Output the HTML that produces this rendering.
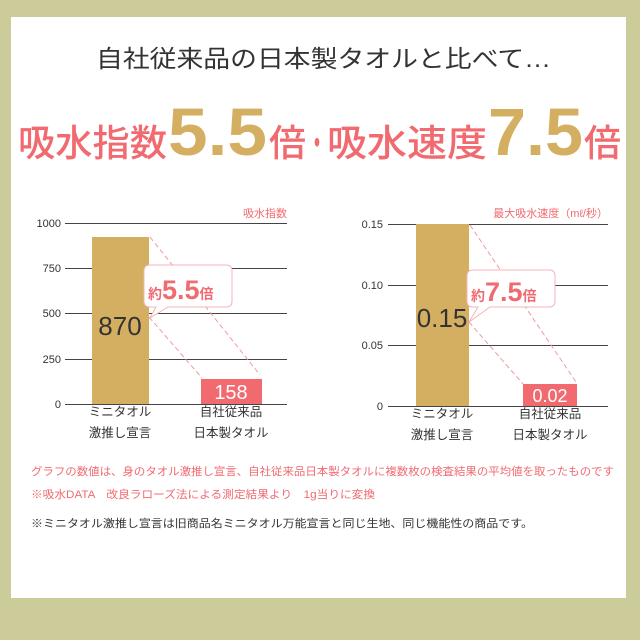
<!DOCTYPE html>
<html><head><meta charset="utf-8"><style>
html,body{margin:0;padding:0;background:#cccb9a;}
svg{display:block;font-family:"Liberation Sans","Noto Sans CJK JP",sans-serif;}
</style></head><body>
<svg width="640" height="640" viewBox="0 0 640 640" xmlns="http://www.w3.org/2000/svg">
<rect x="0" y="0" width="640" height="640" fill="#cccb9a"/>
<rect x="11" y="17" width="615" height="581" fill="#ffffff"/>

<text x="96" y="67" font-size="24" fill="#333" textLength="455" lengthAdjust="spacingAndGlyphs">自社従来品の日本製タオルと比べて…</text>

<text x="18" y="156" font-size="37" fill="#f06a70" font-weight="500" textLength="149" lengthAdjust="spacingAndGlyphs">吸水指数</text>
<text x="168" y="155" font-size="67" fill="#d4af62" font-weight="bold" textLength="99" lengthAdjust="spacingAndGlyphs">5.5</text>
<text x="269" y="156" font-size="37" fill="#f06a70" font-weight="500" textLength="37" lengthAdjust="spacingAndGlyphs">倍</text>
<text x="307" y="156" font-size="37" fill="#f06a70" font-weight="500" textLength="20" lengthAdjust="spacingAndGlyphs">・</text>
<text x="327" y="156" font-size="37" fill="#f06a70" font-weight="500" textLength="160" lengthAdjust="spacingAndGlyphs">吸水速度</text>
<text x="488" y="155" font-size="67" fill="#d4af62" font-weight="bold" textLength="95" lengthAdjust="spacingAndGlyphs">7.5</text>
<text x="584" y="156" font-size="37" fill="#f06a70" font-weight="500" textLength="37" lengthAdjust="spacingAndGlyphs">倍</text>

<!-- Chart 1 -->
<text x="287" y="217" font-size="11" fill="#f06a70" text-anchor="end">吸水指数</text>
<g stroke="#444" stroke-width="1">
<line x1="65" y1="223.5" x2="287" y2="223.5"/>
<line x1="65" y1="268.5" x2="287" y2="268.5"/>
<line x1="65" y1="313.5" x2="287" y2="313.5"/>
<line x1="65" y1="359.5" x2="287" y2="359.5"/>
<line x1="65" y1="404.5" x2="287" y2="404.5"/>
</g>
<g font-size="11" fill="#333" text-anchor="end">
<text x="61" y="227">1000</text><text x="61" y="272">750</text><text x="61" y="317">500</text><text x="61" y="363">250</text><text x="61" y="408">0</text>
</g>
<rect x="92" y="237" width="57" height="167" fill="#d4af62"/>
<rect x="201" y="379" width="61" height="25" fill="#f06a70"/>
<text x="120" y="335" font-size="26" fill="#333" text-anchor="middle">870</text>
<text x="231" y="399" font-size="20" fill="#fff" text-anchor="middle">158</text>
<g stroke="#f09aa0" stroke-width="1" stroke-dasharray="5,3" fill="none">
<line x1="150" y1="237" x2="260" y2="375"/>
<line x1="149" y1="317" x2="202" y2="378"/>
</g>
<path d="M150 265 H226 Q232 265 232 271 V301 Q232 307 226 307 H168 L150 318 L156 307 H150 Q144 307 144 301 V271 Q144 265 150 265 Z" fill="#fff" stroke="#f4b4b8" stroke-width="1"/>
<text x="148" y="299" font-size="14" fill="#f06a70" font-weight="bold">約<tspan font-size="27">5.5</tspan>倍</text>
<g font-size="12.5" fill="#333" text-anchor="middle">
<text x="120" y="416">ミニタオル</text><text x="120" y="437">激推し宣言</text>
<text x="231" y="416">自社従来品</text><text x="231" y="437">日本製タオル</text>
</g>

<!-- Chart 2 -->
<text x="608" y="217" font-size="11" fill="#f06a70" text-anchor="end">最大吸水速度（mℓ/秒）</text>
<g stroke="#444" stroke-width="1">
<line x1="388" y1="224.5" x2="608" y2="224.5"/>
<line x1="388" y1="285.5" x2="608" y2="285.5"/>
<line x1="388" y1="345.5" x2="608" y2="345.5"/>
<line x1="388" y1="406.5" x2="608" y2="406.5"/>
</g>
<g font-size="11" fill="#333" text-anchor="end">
<text x="383" y="228">0.15</text><text x="383" y="289">0.10</text><text x="383" y="349">0.05</text><text x="383" y="410">0</text>
</g>
<rect x="416" y="224" width="53" height="182" fill="#d4af62"/>
<rect x="523" y="384" width="54" height="22" fill="#f06a70"/>
<text x="442" y="327" font-size="26" fill="#333" text-anchor="middle">0.15</text>
<text x="550" y="402" font-size="18" fill="#fff" text-anchor="middle">0.02</text>
<g stroke="#f09aa0" stroke-width="1" stroke-dasharray="5,3" fill="none">
<line x1="470" y1="225" x2="576" y2="382"/>
<line x1="469" y1="322" x2="523" y2="384"/>
</g>
<path d="M473 270 H549 Q555 270 555 276 V301 Q555 307 549 307 H490 L469 322 L478 307 H473 Q467 307 467 301 V276 Q467 270 473 270 Z" fill="#fff" stroke="#f4b4b8" stroke-width="1"/>
<text x="471" y="301" font-size="14" fill="#f06a70" font-weight="bold">約<tspan font-size="27">7.5</tspan>倍</text>
<g font-size="12.5" fill="#333" text-anchor="middle">
<text x="442" y="418">ミニタオル</text><text x="442" y="439">激推し宣言</text>
<text x="550" y="418">自社従来品</text><text x="550" y="439">日本製タオル</text>
</g>

<!-- Footnotes -->
<text x="31" y="475" font-size="11" fill="#f06a70" textLength="583" lengthAdjust="spacingAndGlyphs">グラフの数値は、身のタオル激推し宣言、自社従来品日本製タオルに複数枚の検査結果の平均値を取ったものです</text>
<text x="31" y="498" font-size="11" fill="#f06a70" textLength="344" lengthAdjust="spacingAndGlyphs">※吸水DATA　改良ラローズ法による測定結果より　1g当りに変換</text>
<text x="31" y="527" font-size="11" fill="#333" textLength="502" lengthAdjust="spacingAndGlyphs">※ミニタオル激推し宣言は旧商品名ミニタオル万能宣言と同じ生地、同じ機能性の商品です。</text>
</svg>
</body></html>
